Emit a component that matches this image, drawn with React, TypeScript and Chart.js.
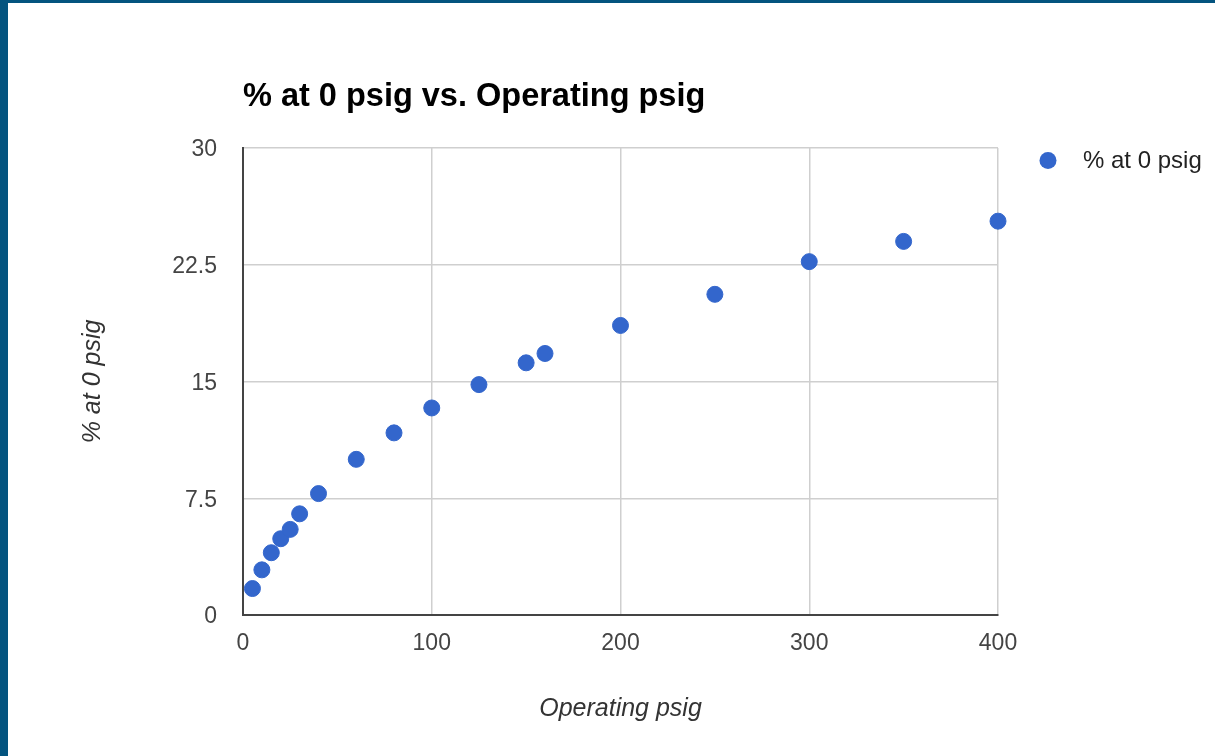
import React, { useEffect, useRef } from "react";
import { Chart, registerables } from "chart.js";

Chart.register(...registerables);

const operatingPsig = [5, 10, 15, 20, 25, 30, 40, 60, 80, 100, 125, 150, 160, 200, 250, 300, 350, 400];
const pctAtZeroPsig = [1.7, 2.9, 4.0, 4.9, 5.5, 6.5, 7.8, 10.0, 11.7, 13.3, 14.8, 16.2, 16.8, 18.6, 20.6, 22.7, 24.0, 25.3];
const seriesLabel = "% at 0 psig";
const chartTitle = "% at 0 psig vs. Operating psig";
const xAxisTitle = "Operating psig";
const yAxisTitle = "% at 0 psig";

const FONT = "Arial, 'Liberation Sans', sans-serif";
const BLUE = "#3366cc";

const overlayPlugin = {
  id: "overlay",
  afterDraw(chart: any) {
    const { ctx } = chart;
    ctx.save();
    ctx.fillStyle = "#000";
    ctx.font = `bold 32.5px ${FONT}`;
    ctx.textAlign = "left";
    ctx.textBaseline = "alphabetic";
    ctx.fillText(chartTitle, 235, 103);
    // legend
    ctx.beginPath();
    ctx.arc(1040, 157.5, 8.5, 0, Math.PI * 2);
    ctx.fillStyle = BLUE;
    ctx.fill();
    ctx.fillStyle = "#222";
    ctx.font = `24px ${FONT}`;
    ctx.textBaseline = "middle";
    ctx.fillText(seriesLabel, 1075, 158.5);
    ctx.restore();
  },
};

export default function App() {
  const ref = useRef<HTMLCanvasElement>(null);
  useEffect(() => {
    if (!ref.current) return;
    const chart = new Chart(ref.current, {
      type: "scatter",
      data: {
        datasets: [
          {
            label: seriesLabel,
            data: operatingPsig.map((x, i) => ({ x, y: pctAtZeroPsig[i] })),
            backgroundColor: BLUE,
            borderColor: BLUE,
            pointRadius: 8,
            borderWidth: 1,
            clip: false,
          },
        ],
      },
      options: {
        animation: false,
        responsive: false,
        events: [],
        layout: { padding: { left: 0, top: 145, right: 217, bottom: 0 } },
        plugins: { legend: { display: false }, title: { display: false }, tooltip: { enabled: false } },
        scales: {
          x: {
            type: "linear",
            min: 0,
            max: 400,
            afterFit: (s: any) => { s.height = 141; },
            ticks: { stepSize: 100, padding: 14.5, color: "#444", font: { family: FONT, size: 23 } },
            grid: { color: "#cfcfcf", lineWidth: 1.5, drawTicks: false },
            border: { display: true, color: "#444", width: 2 },
            title: {
              display: true,
              text: xAxisTitle,
              color: "#333",
              font: { family: FONT, size: 25, style: "italic" },
              padding: { top: 0, bottom: 32 },
            },
          },
          y: {
            type: "linear",
            min: 0,
            max: 30,
            afterFit: (s: any) => { s.width = 235; },
            ticks: { stepSize: 7.5, padding: 26, labelOffset: 2, color: "#444", font: { family: FONT, size: 23 } },
            grid: { color: "#cfcfcf", lineWidth: 1.5, drawTicks: false },
            border: { display: true, color: "#444", width: 2 },
            title: {
              display: true,
              text: yAxisTitle,
              color: "#333",
              font: { family: FONT, size: 25, style: "italic" },
              padding: { top: 70, bottom: 0 },
            },
          },
        },
      },
      plugins: [overlayPlugin],
    });
    return () => chart.destroy();
  }, []);

  return (
    <div style={{ position: "fixed", left: 0, top: 0, width: 1215, height: 756, background: "#04547f" }}>
      <div style={{ position: "absolute", left: 8, top: 3, width: 1207, height: 753, background: "#fff" }}>
        <canvas ref={ref} width={1207} height={753} style={{ display: "block", width: 1207, height: 753 }} />
      </div>
    </div>
  );
}
